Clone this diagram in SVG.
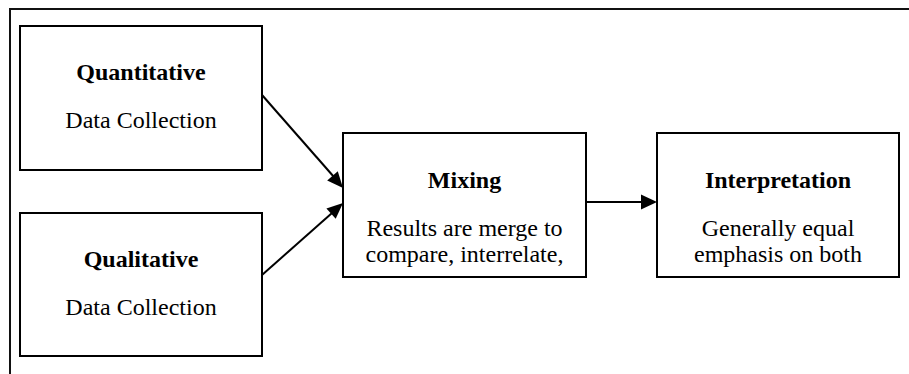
<svg xmlns="http://www.w3.org/2000/svg" width="909" height="374" viewBox="0 0 909 374">
  <style>
    .box { fill: #fff; stroke: #000; stroke-width: 2; }
    .frame { fill: none; stroke: #111; stroke-width: 2; }
    .edge { fill: none; stroke: #000; stroke-width: 2; }
    .head { fill: #000; }
    text { font-family: "Liberation Serif", "Times New Roman", serif; font-size: 24px; fill: #000; text-anchor: middle; }
    .title { font-weight: bold; }
  </style>
  <rect width="909" height="374" fill="#fff"/>
  <!-- outer frame: top and left edges -->
  <path class="frame" d="M10,374 V9 H909"/>

  <g id="quantitative">
    <rect class="box" x="20" y="26" width="242" height="144"/>
    <text class="title" x="141" y="80">Quantitative</text>
    <text x="141" y="128">Data Collection</text>
  </g>

  <g id="qualitative">
    <rect class="box" x="20" y="213" width="242" height="143"/>
    <text class="title" x="141" y="267">Qualitative</text>
    <text x="141" y="315">Data Collection</text>
  </g>

  <g id="mixing">
    <rect class="box" x="343" y="133" width="243" height="144"/>
    <text class="title" x="464.5" y="188">Mixing</text>
    <text x="464.5" y="236">Results are merge to</text>
    <text x="464.5" y="262">compare, interrelate,</text>
  </g>

  <g id="interpretation">
    <rect class="box" x="657" y="133" width="242" height="144"/>
    <text class="title" x="778" y="188">Interpretation</text>
    <text x="778" y="236">Generally equal</text>
    <text x="778" y="262">emphasis on both</text>
  </g>

  <g id="connectors">
    <path class="edge" d="M262,95 L334,177"/>
    <path class="edge" d="M262,275 L332,213"/>
    <path class="edge" d="M586,202 L642,202"/>
    <path class="head" d="M343,188 L327.2,180.5 L337.8,171.3 Z"/>
    <path class="head" d="M343,203 L335.7,218.8 L326.4,208.4 Z"/>
    <path class="head" d="M657,202 L641,194.5 L641,209.5 Z"/>
  </g>
</svg>
